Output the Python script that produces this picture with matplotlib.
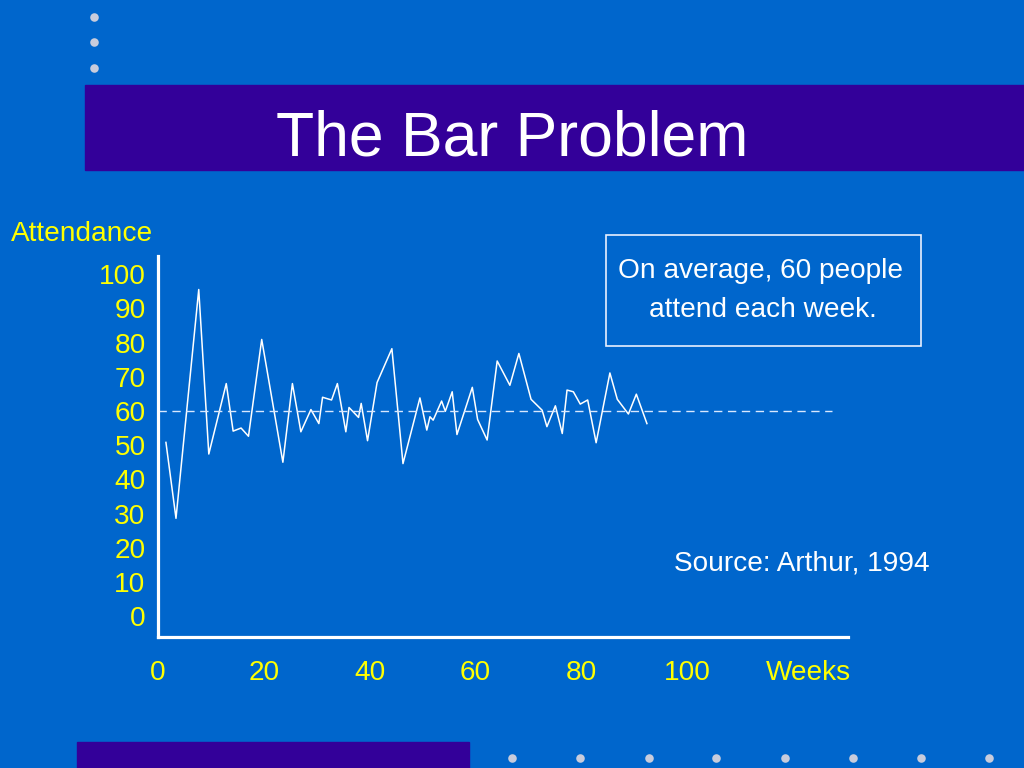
"""
The Bar Problem: weekly attendance slide.
"""

import matplotlib

matplotlib.use("Agg")
import matplotlib.pyplot as plt
from matplotlib.patches import Rectangle

plt.rcParams["font.family"] = ["Liberation Sans", "DejaVu Sans"]

# Weekly attendance
weeks = [
    1.5, 3.4, 7.7, 9.6, 12.9, 14.2, 15.7, 17.1, 19.6, 23.6,
    25.4, 27.0, 28.9, 30.4, 31.1, 32.8, 33.9, 35.5, 36.1, 37.9,
    38.4, 39.6, 41.4, 44.2, 46.3, 49.5, 50.8, 51.4, 52.0, 53.6,
    54.3, 55.6, 56.5, 59.4, 60.4, 62.2, 64.1, 66.5, 68.2, 70.5,
    72.6, 73.5, 75.1, 76.4, 77.3, 78.5, 79.8, 81.2, 82.8, 85.4,
    86.8, 88.9, 90.4, 92.4,
]
attendance = [
    50.8, 28.6, 95.5, 47.4, 68.0, 54.1, 55.0, 52.6, 80.9, 45.0,
    68.0, 53.9, 60.4, 56.3, 64.0, 63.2, 68.0, 53.9, 61.0, 58.1,
    62.2, 51.3, 68.3, 78.2, 44.6, 63.8, 54.4, 58.3, 57.3, 62.9,
    59.9, 65.6, 53.1, 66.9, 57.5, 51.5, 74.6, 67.5, 76.8, 63.4,
    60.2, 55.4, 61.5, 53.4, 66.1, 65.6, 62.0, 63.2, 50.7, 71.1,
    63.4, 59.1, 64.9, 56.3,
]
average = 60
average_end = 127.4
x_ticks = [0, 20, 40, 60, 80, 100]
y_ticks = [0, 10, 20, 30, 40, 50, 60, 70, 80, 90, 100]

BLUE = "#0066CC"
PURPLE = "#330099"
YELLOW = "#FFFF00"
DOT = "#C8CCDC"
FS = 20.2

W, H = 1024, 768
fig = plt.figure(figsize=(W / 100, H / 100), dpi=100, facecolor=BLUE)


def fx(px):
    return px / W


def fy(py):
    return 1 - py / H


# Decorative bands and dots
fig.patches.append(
    Rectangle((fx(85), fy(170)), fx(1024 - 85), 85 / H,
              transform=fig.transFigure, color=PURPLE, zorder=0)
)
fig.patches.append(
    Rectangle((fx(77), 0), fx(469 - 77), 26 / H,
              transform=fig.transFigure, color=PURPLE, zorder=0)
)
deco = fig.add_axes([0, 0, 1, 1], facecolor="none")
deco.set_xlim(0, W)
deco.set_ylim(H, 0)
deco.axis("off")
deco.scatter([94, 94, 94], [17, 42, 68], s=38, color=DOT, lw=0)
deco.scatter([512, 580, 649, 716, 785, 853, 921, 989], [758] * 8,
             s=38, color=DOT, lw=0)

fig.text(fx(512), fy(156), "The Bar Problem", color="white", fontsize=45,
         ha="center", va="baseline")

# Main chart
ax = fig.add_axes([fx(158), fy(637), fx(690), 381 / H], facecolor="none")
ax.plot(weeks, attendance, color="white", lw=1.1)
ax.plot([0, average_end], [average, average], color="#D8E8FF", lw=1.0,
        dashes=(6, 4))
ax.set_xlim(0, 130.4)
ax.set_ylim(-6.1, 105.3)

for side in ("top", "right"):
    ax.spines[side].set_visible(False)
for side in ("left", "bottom"):
    ax.spines[side].set_color("white")
    ax.spines[side].set_linewidth(2.3)

ax.set_xticks(x_ticks)
ax.set_yticks(y_ticks)
ax.tick_params(axis="both", length=0, colors=YELLOW, labelsize=FS)
ax.tick_params(axis="x", pad=16.5)
ax.tick_params(axis="y", pad=9)

fig.text(fx(808), fy(680), "Weeks", color=YELLOW, fontsize=FS,
         ha="center", va="baseline")
fig.text(fx(11), fy(234), "Attendance", color=YELLOW, fontsize=FS,
         ha="left", va="center")

# Annotation box
fig.patches.append(
    Rectangle((fx(606), fy(346)), fx(315), 111 / H,
              transform=fig.transFigure, fill=False, edgecolor="#E8F0FF",
              lw=1.2)
)
fig.text(fx(760), fy(271), "On average, 60 people", color="white",
         fontsize=FS, ha="center", va="center")
fig.text(fx(763), fy(310), "attend each week.", color="white",
         fontsize=FS, ha="center", va="center")
fig.text(fx(930), fy(563), "Source: Arthur, 1994", color="white",
         fontsize=FS, ha="right", va="center")

fig.savefig("out.png", dpi=100, facecolor=BLUE)
